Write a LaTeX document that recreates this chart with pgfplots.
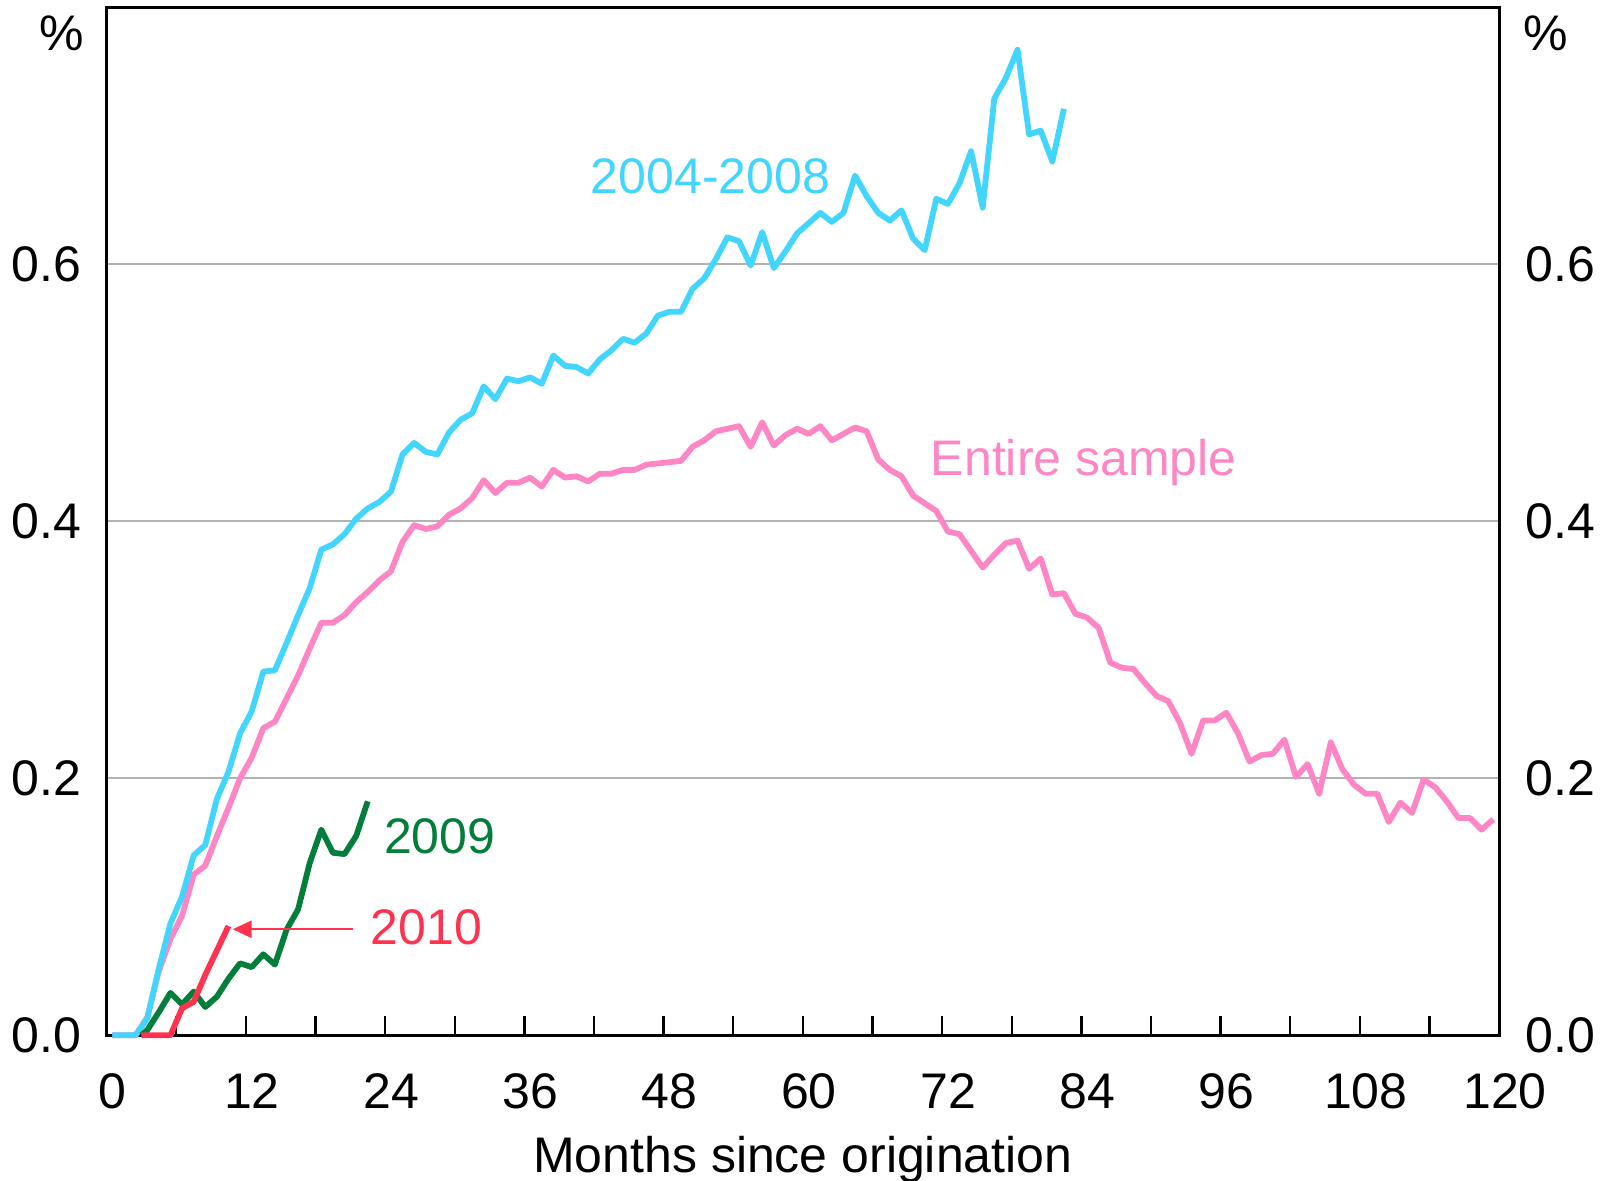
\documentclass[border=0pt]{standalone}
\usepackage{fontspec}
\setmainfont{Liberation Sans}
\usepackage{pgfplots}
\pgfplotsset{compat=1.18}
\usetikzlibrary{arrows.meta}
\definecolor{cyanl}{RGB}{66,214,255}
\definecolor{pinkl}{RGB}{255,134,196}
\definecolor{greenl}{RGB}{0,126,58}
\definecolor{redl}{RGB}{255,51,79}
\definecolor{gridgray}{RGB}{178,178,178}
\newcommand{\fs}{\fontsize{12.5}{15}\selectfont}
\begin{document}
\begin{tikzpicture}
\begin{axis}[
  scale only axis, width=348.1pt, height=257pt,
  xmin=0, xmax=120, ymin=0, ymax=0.8,
  clip=false,
  axis line style={black, line width=0.75pt},
  /pgf/number format/assume math mode=true,
  xtick={0,12,...,120},
  xticklabels={0,12,24,36,48,60,72,84,96,108,120},
  minor xtick={6,18,...,114},
  xtick pos=bottom, tick align=inside,
  major tick length=4.75pt, minor tick length=4.75pt,
  xtick style={black, line width=0.6pt},
  minor tick style={black, line width=0.6pt},
  ytick={0,0.2,0.4,0.6},
  yticklabels={0.0,0.2,0.4,0.6},
  ytick style={draw=none},
  ymajorgrids, grid style={color=gridgray, line width=0.5pt},
  xticklabel style={font=\fs, inner sep=0pt, yshift=-9.5pt, xshift=1.5pt},
  yticklabel style={font=\fs, inner sep=0pt, xshift=-6.25pt},
]
\addplot[pinkl, line width=1.45pt, line join=round] coordinates {
(0.5,0) (1.5,0) (2.5,0) (3.5,0.014) (4.5,0.050) (5.5,0.075) (6.5,0.093) (7.5,0.125) (8.5,0.132) (9.5,0.155)
(10.5,0.177) (11.5,0.200) (12.5,0.216) (13.5,0.239) (14.5,0.244) (15.5,0.262) (16.5,0.280) (17.5,0.301) (18.5,0.321) (19.5,0.321)
(20.5,0.327) (21.5,0.337) (22.5,0.345) (23.5,0.354) (24.5,0.361) (25.5,0.384) (26.5,0.397) (27.5,0.394) (28.5,0.396) (29.5,0.405)
(30.5,0.410) (31.5,0.418) (32.5,0.432) (33.5,0.422) (34.5,0.430) (35.5,0.430) (36.5,0.434) (37.5,0.427) (38.5,0.440) (39.5,0.434)
(40.5,0.435) (41.5,0.431) (42.5,0.437) (43.5,0.437) (44.5,0.440) (45.5,0.440) (46.5,0.444) (47.5,0.445) (48.5,0.446) (49.5,0.447)
(50.5,0.458) (51.5,0.463) (52.5,0.470) (53.5,0.472) (54.5,0.474) (55.5,0.458) (56.5,0.477) (57.5,0.459) (58.5,0.467) (59.5,0.472)
(60.5,0.468) (61.5,0.474) (62.5,0.463) (63.5,0.468) (64.5,0.473) (65.5,0.470) (66.5,0.448) (67.5,0.440) (68.5,0.435) (69.5,0.420)
(70.5,0.414) (71.5,0.408) (72.5,0.392) (73.5,0.390) (74.5,0.377) (75.5,0.364) (76.5,0.374) (77.5,0.383) (78.5,0.385) (79.5,0.363)
(80.5,0.371) (81.5,0.343) (82.5,0.344) (83.5,0.328) (84.5,0.325) (85.5,0.317) (86.5,0.290) (87.5,0.286) (88.5,0.285) (89.5,0.274)
(90.5,0.264) (91.5,0.260) (92.5,0.243) (93.5,0.219) (94.5,0.245) (95.5,0.245) (96.5,0.251) (97.5,0.235) (98.5,0.213) (99.5,0.218)
(100.5,0.219) (101.5,0.230) (102.5,0.201) (103.5,0.211) (104.5,0.188) (105.5,0.228) (106.5,0.207) (107.5,0.195) (108.5,0.188) (109.5,0.188)
(110.5,0.166) (111.5,0.181) (112.5,0.173) (113.5,0.199) (114.5,0.193) (115.5,0.182) (116.5,0.169) (117.5,0.169) (118.5,0.160) (119.5,0.168)
};
\addplot[cyanl, line width=1.45pt, line join=round] coordinates {
(0.5,0) (1.5,0) (2.5,0) (3.5,0.013) (4.5,0.052) (5.5,0.087) (6.5,0.108) (7.5,0.140) (8.5,0.148) (9.5,0.184)
(10.5,0.205) (11.5,0.235) (12.5,0.252) (13.5,0.283) (14.5,0.284) (15.5,0.305) (16.5,0.327) (17.5,0.348) (18.5,0.378) (19.5,0.382)
(20.5,0.390) (21.5,0.402) (22.5,0.410) (23.5,0.415) (24.5,0.423) (25.5,0.452) (26.5,0.461) (27.5,0.454) (28.5,0.452) (29.5,0.469)
(30.5,0.479) (31.5,0.484) (32.5,0.505) (33.5,0.495) (34.5,0.511) (35.5,0.509) (36.5,0.512) (37.5,0.507) (38.5,0.529) (39.5,0.521)
(40.5,0.520) (41.5,0.515) (42.5,0.526) (43.5,0.533) (44.5,0.542) (45.5,0.539) (46.5,0.546) (47.5,0.560) (48.5,0.563) (49.5,0.563)
(50.5,0.581) (51.5,0.589) (52.5,0.604) (53.5,0.621) (54.5,0.618) (55.5,0.599) (56.5,0.625) (57.5,0.597) (58.5,0.610) (59.5,0.624)
(60.5,0.632) (61.5,0.640) (62.5,0.633) (63.5,0.640) (64.5,0.669) (65.5,0.653) (66.5,0.640) (67.5,0.634) (68.5,0.642) (69.5,0.620)
(70.5,0.611) (71.5,0.651) (72.5,0.647) (73.5,0.663) (74.5,0.688) (75.5,0.644) (76.5,0.729) (77.5,0.745) (78.5,0.767) (79.5,0.701)
(80.5,0.704) (81.5,0.680) (82.5,0.721)
};
\addplot[greenl, line width=1.45pt, line join=round] coordinates {
(3,0) (3.5,0.004) (4.5,0.018) (5.5,0.033) (6.5,0.024) (7.5,0.034) (8.5,0.022) (9.5,0.030) (10.5,0.044) (11.5,0.056)
(12.5,0.053) (13.5,0.063) (14.5,0.055) (15.5,0.082) (16.5,0.098) (17.5,0.134) (18.5,0.160) (19.5,0.142) (20.5,0.141) (21.5,0.155)
(22.5,0.182)
};
\addplot[redl, line width=1.45pt, line join=round] coordinates {
(3,0) (4.5,0) (5.5,0) (6.5,0.021) (7.5,0.026) (8.5,0.047) (9.5,0.066) (10.5,0.085)
};
\node[cyanl, font=\fs, anchor=base east, inner sep=0pt] at (axis cs:62.41,0.6553) {2004-2008};
\node[pinkl, font=\fs, anchor=base west, inner sep=0pt] at (axis cs:70.97,0.436) {Entire sample};
\node[greenl, font=\fs, anchor=base west, inner sep=0pt] at (axis cs:23.85,0.1411) {2009};
\node[redl, font=\fs, anchor=base west, inner sep=0pt] at (axis cs:22.7,0.0703) {2010};
\draw[redl, line width=0.5pt, -{Triangle[length=4.75pt,width=4.3pt]}] (axis cs:21.26,0.0825) -- (axis cs:10.86,0.0825);
\node[font=\fs, anchor=base east, inner sep=0pt, xshift=-5.4pt, yshift=-10.7pt] at (rel axis cs:0,1) {\%};
\node[font=\fs, anchor=base west, inner sep=0pt, xshift=5.9pt, yshift=-10.7pt] at (rel axis cs:1,1) {\%};
\node[font=\fs, anchor=base, inner sep=0pt, yshift=-34.2pt] at (rel axis cs:0.5,0) {Months since origination};
\coordinate (bbsw) at (rel axis cs:-0.0766,-0.1417);
\coordinate (bbne) at (rel axis cs:1.0754,1.0071);
\end{axis}
\begin{axis}[
  scale only axis, width=348.1pt, height=257pt,
  xmin=0, xmax=120, ymin=0, ymax=0.8,
  axis x line=none, axis y line*=right,
  axis line style={black, line width=0.75pt},
  /pgf/number format/assume math mode=true,
  ytick={0,0.2,0.4,0.6},
  yticklabels={0.0,0.2,0.4,0.6},
  ytick style={draw=none},
  yticklabel style={font=\fs, inner sep=0pt, xshift=6.4pt},
]
\end{axis}
\pgfresetboundingbox
\path[use as bounding box] (bbsw) rectangle (bbne);
\end{tikzpicture}
\end{document}
